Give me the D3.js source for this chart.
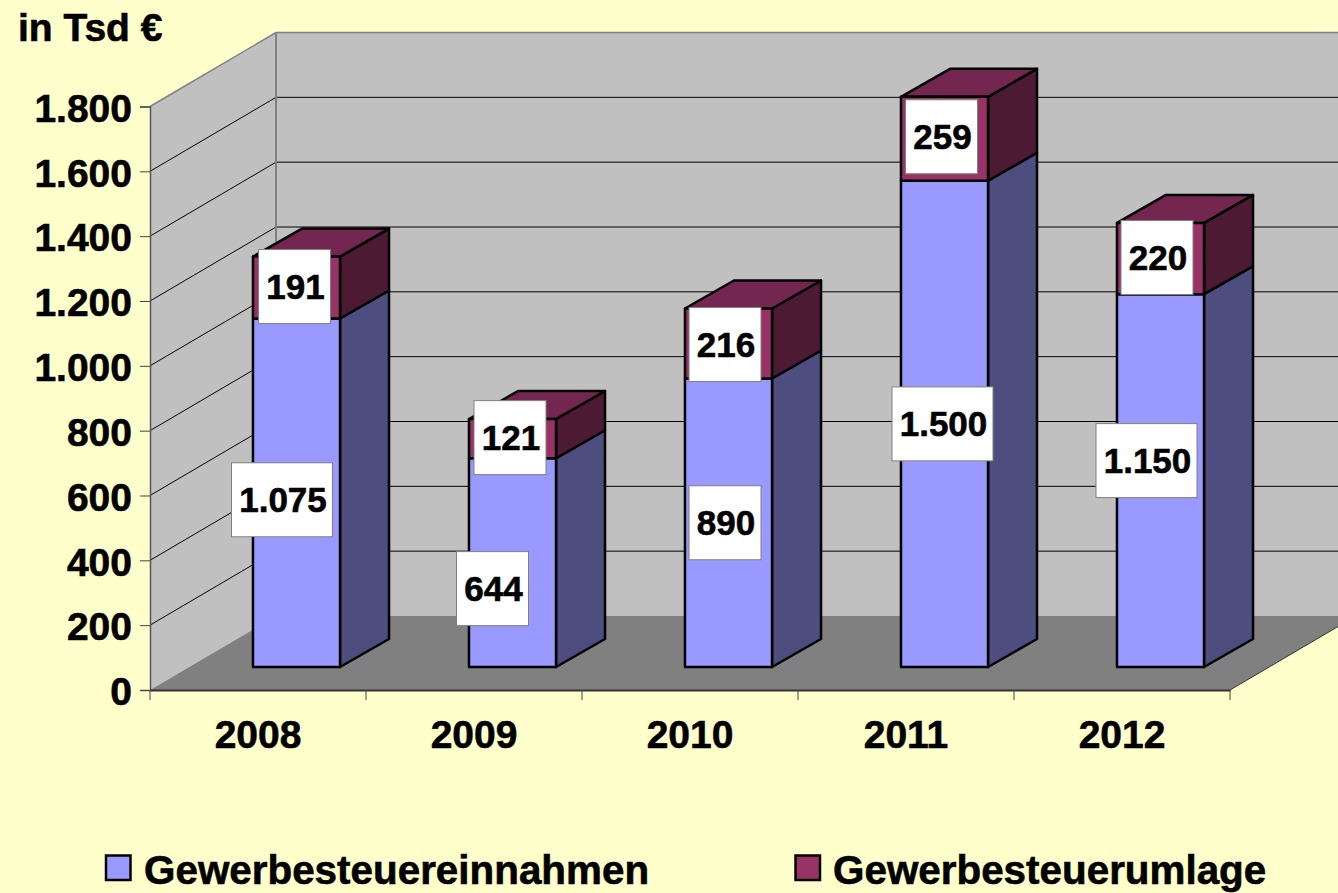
<!DOCTYPE html>
<html>
<head>
<meta charset="utf-8">
<script src="https://cdn.jsdelivr.net/npm/d3@7"></script>
<style>
  html, body { margin: 0; padding: 0; background: #ffffcc; overflow: hidden; }
  text { font-family: "Liberation Sans", Arial, sans-serif; font-weight: bold; fill: #000; stroke: #000; stroke-width: 0.6px; }
</style>
</head>
<body>
<svg id="chart" width="1338" height="893"></svg>
<script>
// Data
const years = ["2008", "2009", "2010", "2011", "2012"];
const einnahmen = [1075, 644, 890, 1500, 1150];
const umlage = [191, 121, 216, 259, 220];
const yTicks = [0, 200, 400, 600, 800, 1000, 1200, 1400, 1600, 1800];
const seriesNames = ["Gewerbesteuereinnahmen", "Gewerbesteuerumlage"];

// Label box centres, relative to the middle of their bar segment
const einnahmenLabelShift = [[-14.5, 7], [-20, 26], [-3.5, 0], [-2, 0], [-14, -20]];
const umlageLabelShift = [[-2, -1], [-2.5, -1], [-3.5, 1], [-3, -2], [-3.5, -1]];

// Colors
const wallColor = "#c0c0c0";
const floorColor = "#808080";
const einnahmenColors = { front: "#9999ff", side: "#4d4d80" };
const umlageColors = { front: "#993366", side: "#4d1a33", top: "#732650" };

// 3D offsets of the box
const depthX = 126, depthY = -74;   // front plane to back wall
const barInsetX = 38.5, barInsetY = -23; // front plane to bar front
const barDepthX = 49, barDepthY = -28; // bar front to bar back

const svg = d3.select("#chart");

const x = d3.scaleBand()
    .domain(years)
    .range([150, 1230])
    .paddingInner(0.597)
    .paddingOuter(0.2985);

const y = d3.scaleLinear()
    .domain([0, 1800])
    .range([690, 106.5]);

const polygon = pts => pts.map(p => p.join(",")).join(" ");

// Walls and floor
const x0 = x.range()[0], x1 = x.range()[1];
const yBase = y(0), yTop = y(1800);

svg.append("polygon")
    .attr("points", polygon([[x0 + depthX, yTop + depthY], [x1 + depthX, yTop + depthY], [x1 + depthX, yBase + depthY], [x0 + depthX, yBase + depthY]]))
    .attr("fill", wallColor);
svg.append("polygon")
    .attr("points", polygon([[x0, yTop], [x0 + depthX, yTop + depthY], [x0 + depthX, yBase + depthY], [x0, yBase]]))
    .attr("fill", wallColor);
svg.append("polygon")
    .attr("points", polygon([[x0, yBase], [x1, yBase], [x1 + depthX, yBase + depthY], [x0 + depthX, yBase + depthY]]))
    .attr("fill", floorColor);

// Gridlines on side wall and back wall
const gridTicks = yTicks.filter(d => d > 0 && d < 1800);
svg.append("g").selectAll("path")
    .data(gridTicks)
    .enter().append("path")
    .attr("d", d => `M${x0},${y(d)}L${x0 + depthX},${y(d) + depthY}L${x1 + depthX},${y(d) + depthY}`)
    .attr("fill", "none")
    .attr("stroke", "#000")
    .attr("stroke-width", 1);

// Wall edges
svg.append("path")
    .attr("d", `M${x0},${yTop}L${x0 + depthX},${yTop + depthY}L${x1 + depthX},${yTop + depthY}`)
    .attr("fill", "none").attr("stroke", "#808080").attr("stroke-width", 1.5);
svg.append("path")
    .attr("d", `M${x0 + depthX},${yTop + depthY}L${x0 + depthX},${yBase + depthY}`)
    .attr("fill", "none").attr("stroke", "#808080").attr("stroke-width", 2);
svg.append("path")
    .attr("d", `M${x1},${yBase}L${x1 + depthX},${yBase + depthY}`)
    .attr("fill", "none").attr("stroke", "#333").attr("stroke-width", 1);

// Axes
const locale = d3.formatLocale({ decimal: ",", thousands: ".", grouping: [3], currency: ["", " €"] });

const yAxis = svg.append("g")
    .attr("transform", `translate(${x0},0)`)
    .call(d3.axisLeft(y).tickValues(yTicks).tickFormat(locale.format(",d")).tickSize(10).tickPadding(8));
yAxis.selectAll(".tick line").attr("stroke", "#444");
yAxis.select(".domain").attr("stroke", "#555").attr("stroke-width", 1.5);
yAxis.selectAll("text").attr("font-size", 39).attr("font-family", null).attr("dy", "0.38em");

const xAxis = svg.append("g")
    .attr("transform", `translate(0,${yBase})`)
    .call(d3.axisBottom(x).tickSize(0).tickPadding(30));
xAxis.select(".domain").attr("stroke", "#333").attr("stroke-width", 2);
xAxis.selectAll("text").attr("font-size", 39).attr("font-family", null);

// Ticks between the categories
const step = x.step();
xAxis.append("g").selectAll("line")
    .data(d3.range(years.length + 1))
    .enter().append("line")
    .attr("x1", i => x0 + i * step)
    .attr("x2", i => x0 + i * step)
    .attr("y1", 0)
    .attr("y2", 10)
    .attr("stroke", "#444");

// Bars
const bars = svg.append("g")
    .selectAll("g")
    .data(years)
    .enter().append("g");

const barBase = y(0) + barInsetY;
const barH = v => y(0) - y(v);

function drawBox(sel, left, w, bottom, top, colors) {
    const right = left + w;
    const style = s => s.attr("stroke", "#000").attr("stroke-width", 2.5).attr("stroke-linejoin", "round");
    sel.append("polygon")
        .attr("points", polygon([[right, bottom], [right + barDepthX, bottom + barDepthY], [right + barDepthX, top + barDepthY], [right, top]]))
        .attr("fill", colors.side).call(style);
    if (colors.top) {
        sel.append("polygon")
            .attr("points", polygon([[left, top], [left + barDepthX, top + barDepthY], [right + barDepthX, top + barDepthY], [right, top]]))
            .attr("fill", colors.top).call(style);
    }
    sel.append("rect")
        .attr("x", left).attr("y", top).attr("width", w).attr("height", bottom - top)
        .attr("fill", colors.front).call(style);
}

bars.each(function (d, i) {
    const g = d3.select(this);
    const left = x(d) + barInsetX;
    const top1 = barBase - barH(einnahmen[i]);
    const top2 = top1 - barH(umlage[i]);
    drawBox(g, left, x.bandwidth(), barBase, top1, einnahmenColors);
    drawBox(g, left, x.bandwidth(), top1, top2, umlageColors);
});

// Data labels
const formatValue = locale.format(",d");

function drawLabel(value, cx, cy) {
    const label = formatValue(value);
    const w = label.length > 3 ? 101 : 72;
    const h = 74;
    svg.append("rect")
        .attr("x", cx - w / 2).attr("y", cy - h / 2)
        .attr("width", w).attr("height", h)
        .attr("fill", "#fff").attr("stroke", "#808080").attr("stroke-width", 1);
    svg.append("text")
        .attr("x", cx + 1).attr("y", cy)
        .attr("dy", "0.35em")
        .attr("text-anchor", "middle")
        .attr("font-size", 35)
        .text(label);
}

years.forEach((d, i) => {
    const cx = x(d) + barInsetX + x.bandwidth() / 2;
    const top1 = barBase - barH(einnahmen[i]);
    const top2 = top1 - barH(umlage[i]);
    drawLabel(einnahmen[i], cx + einnahmenLabelShift[i][0], (barBase + top1) / 2 + einnahmenLabelShift[i][1]);
    drawLabel(umlage[i], cx + umlageLabelShift[i][0], (top1 + top2) / 2 + umlageLabelShift[i][1]);
});

// Unit label
svg.append("text")
    .attr("x", 18).attr("y", 41)
    .attr("font-size", 39)
    .text("in Tsd €");

// Legend
const legendX = [106, 795.5];
const legendTextX = [144, 833];
const legendColors = [einnahmenColors.front, umlageColors.front];
const legend = svg.append("g").selectAll("g")
    .data(seriesNames)
    .enter().append("g");
legend.append("rect")
    .attr("x", (d, i) => legendX[i]).attr("y", 855.5)
    .attr("width", 24.5).attr("height", 24.5)
    .attr("fill", (d, i) => legendColors[i])
    .attr("stroke", "#000").attr("stroke-width", 2.5);
legend.append("text")
    .attr("x", (d, i) => legendTextX[i]).attr("y", 884)
    .attr("font-size", 40.4)
    .text(d => d);
</script>
</body>
</html>
